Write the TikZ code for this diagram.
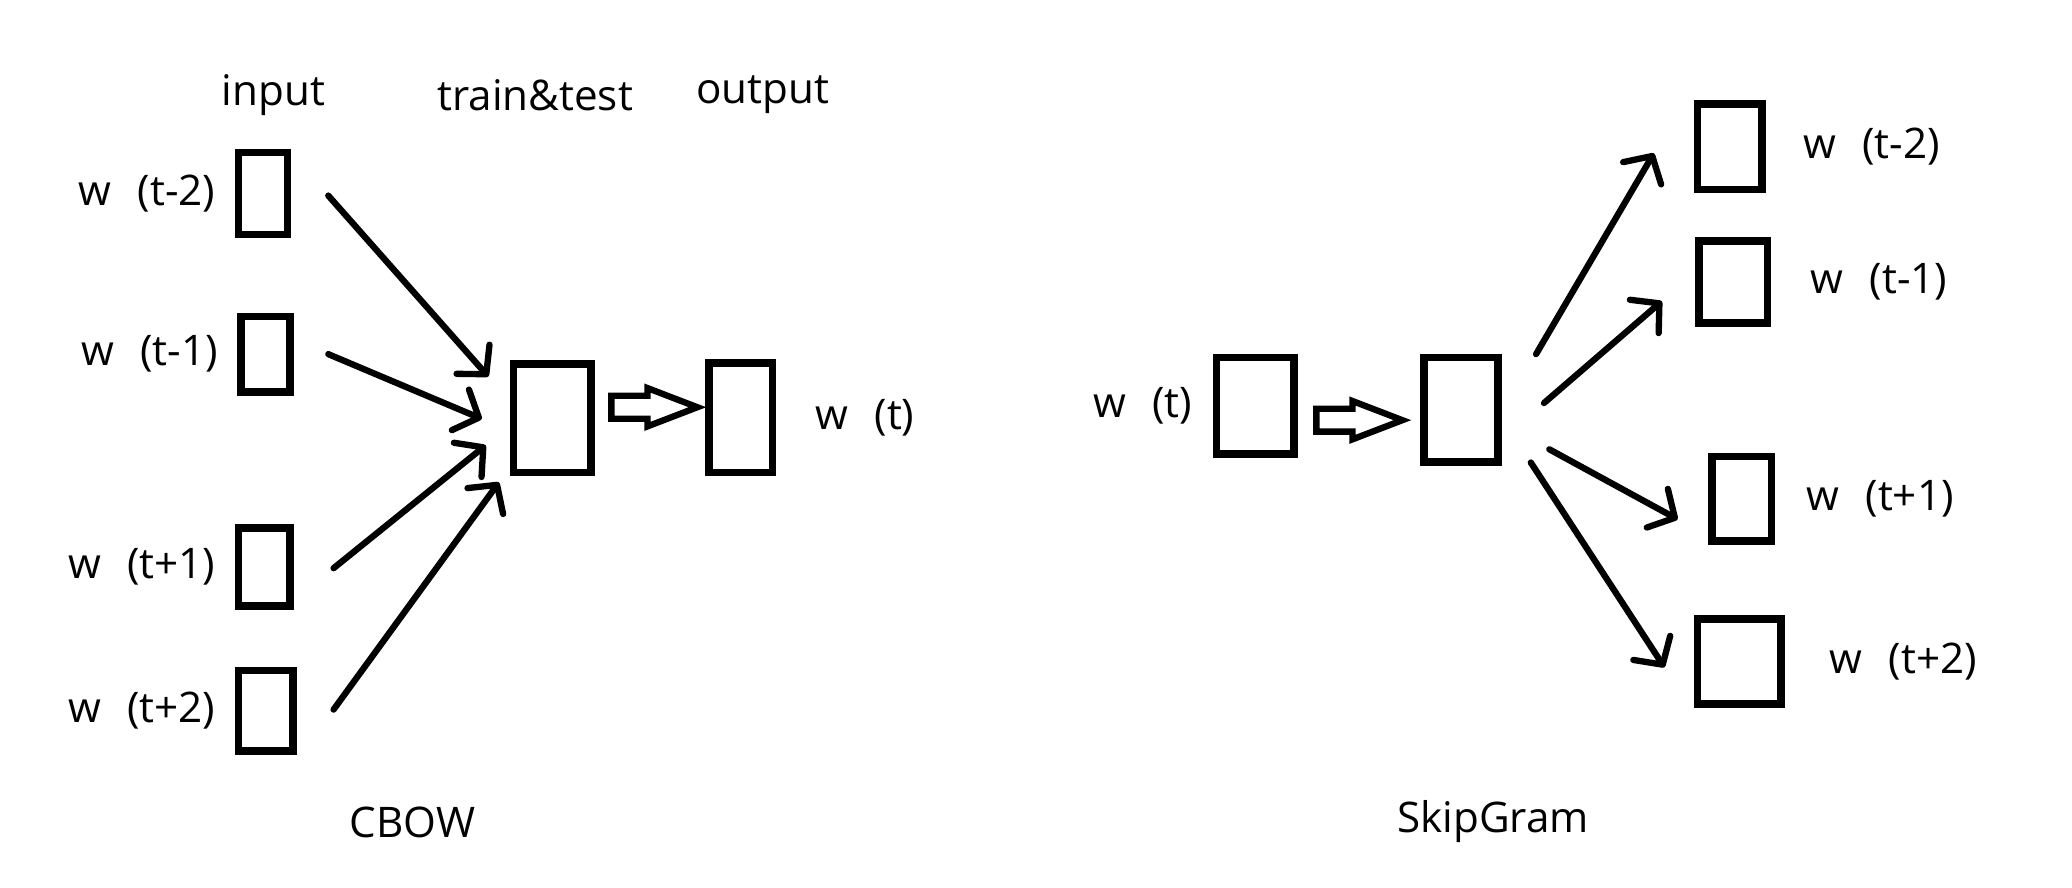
\documentclass[tikz,border=0pt]{standalone}
\usepackage{fontspec}
\setmainfont{Open Sans}
\usepackage{tikz}
\usetikzlibrary{positioning,arrows.meta,shapes.arrows}

\def\px{0.013214cm}
\newcommand\wlab[1]{w\hspace{0.62em}(#1)}
\tikzset{
  vec/.style={draw, line width=2.2pt, inner sep=0pt},
  arr/.style={line width=1.8pt, line cap=round,
    -{Straight Barb[length=2mm, width=4.4mm, round]}},
  fat/.style={draw, line width=1.8pt, shape=single arrow, inner sep=0.083cm,
    minimum height=0.86cm, minimum width=0.32cm, single arrow head extend=0.077cm,
    single arrow tip angle=42},
}

\begin{document}
\begin{tikzpicture}[x=\px, y=-\px, font=\fontsize{12}{14}\selectfont]
  \useasboundingbox (0,0) rectangle (1568,672);
  % ---- CBOW: context words -> hidden -> centre word
  \node (hin) at (207,72) {input};
  \node (htt) at (405,72) {train\&test};
  \node (hout) at (577,72) {output};
  \foreach \n/\cx/\cy/\w/\h/\lab in {1/199/146.5/37/62/t-2, 2/201/268/37/57/t-1,
                                     3/200/429/39/59/t+1, 4/201/538/41/61/t+2} {
    \node[vec, minimum width=\w*\px, minimum height=\h*\px] (in\n) at (\cx,\cy) {};
    \node[left=0.07cm of in\n] (lin\n) {\wlab{\lab}};
  }
  \node[vec, minimum width=59*\px, minimum height=82*\px] (hid) at (418,316.5) {};
  \node[vec, minimum width=48*\px, minimum height=83*\px] (out) at (560.5,316) {};
  \node[right=0.27cm of out] (lout) {\wlab{t}};
  \foreach \n/\sx/\sy/\ex/\ey in {1/28/1.5/-16/-31.5, 2/26/0/-21/0.5,
                                  3/30/1/-18/20.5, 4/28/-1/-8/48.5}
    \draw[arr] ([shift={(\sx,\sy)}]in\n.east) -- ([shift={(\ex,\ey)}]hid.west);
  \node[fat, right=0.13cm of hid, yshift=0.11cm] (pass) {};
  \node (cbow) at (312,622) {CBOW};
  % ---- SkipGram: centre word -> hidden -> context words
  \node[vec, minimum width=59*\px, minimum height=73*\px] (sin) at (950,307) {};
  \node[left=0.08cm of sin] (lsin) {\wlab{t}};
  \node[vec, minimum width=56*\px, minimum height=79*\px] (shid) at (1105.5,310) {};
  \node[fat, right=0.15cm of sin, yshift=-0.145cm] (spass) {};
  \foreach \n/\cx/\cy/\w/\h/\lab/\gap in {1/1309/111/49/65/t-2/0.25, 2/1311.5/213.5/52/62/t-1/0.27,
                                          3/1318/377.5/45/64/t+1/0.19, 4/1316/500.5/63/64/t+2/0.33} {
    \node[vec, minimum width=\w*\px, minimum height=\h*\px] (so\n) at (\cx,\cy) {};
    \node[right=\gap cm of so\n] (lso\n) {\wlab{\lab}};
  }
  \foreach \n/\sx/\sy/\ex/\ey in {1/26/-42/-30/5, 2/32/-5/-25/14.5,
                                  3/36/30/-23/15.5, 4/22/40/-22/4.5}
    \draw[arr] ([shift={(\sx,\sy)}]shid.east) -- ([shift={(\ex,\ey)}]so\n.west);
  \node (skip) at (1130,622) {SkipGram};
\end{tikzpicture}
\end{document}
